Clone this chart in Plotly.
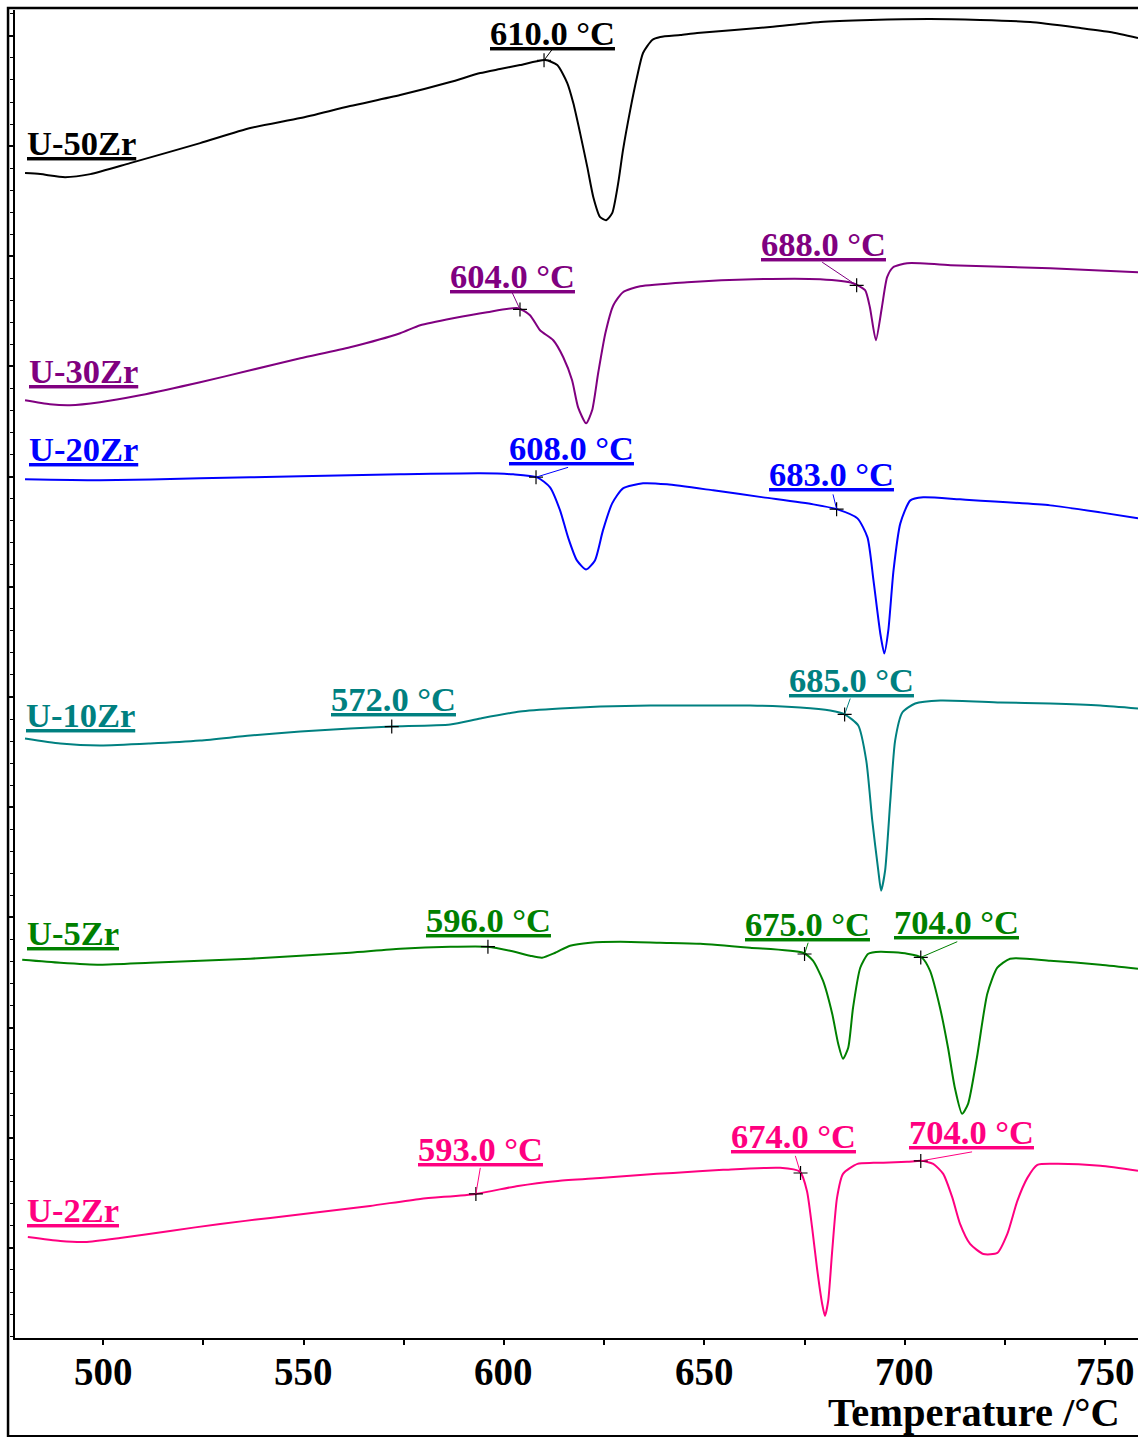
import numpy as np
import plotly.graph_objects as go

# ---------------- DSC heating curves (heat flow in a.u., curves stacked) ----------------
sample_names = ["U-50Zr", "U-30Zr", "U-20Zr", "U-10Zr", "U-5Zr", "U-2Zr"]

t_50zr = [480.5, 484.3, 490.5, 496.8, 506.7, 524.2, 536.7, 549.2, 561.6, 574.1, 586.6, 594.1,
          599.0, 604.0, 610.3, 613.3, 615.8, 617.3, 619.0, 620.8, 622.3, 624.0, 625.5, 627.0,
          628.5, 629.7, 631.5, 633.2, 634.7, 637.0, 639.0, 644.0, 648.2, 666.4, 678.9, 691.4,
          706.3, 718.8, 731.3, 743.8, 751.2, 758.2]
hf_50zr = [1164, 1163, 1160, 1163, 1174, 1194, 1209, 1219, 1231, 1242, 1255, 1264,
           1268, 1272, 1277, 1272, 1254, 1234, 1204, 1170, 1140, 1120, 1117, 1124,
           1154, 1187, 1227, 1260, 1284, 1297, 1300, 1302, 1304, 1310, 1315, 1317,
           1318, 1317, 1315, 1309, 1305, 1299]

t_30zr = [480.5, 486.7, 491.7, 499.2, 509.2, 524.2, 536.7, 549.2, 561.6, 574.1, 579.1, 587.3,
          595.8, 603.5, 606.5, 609.0, 612.3, 614.8, 617.0, 618.5, 620.5, 622.0, 623.5, 625.3,
          627.3, 629.7, 634.0, 645.7, 662.2, 678.9, 687.1, 690.1, 691.3, 692.8, 694.3, 695.6,
          697.1, 700.6, 703.8, 711.4, 736.3, 758.2]
hf_30zr = [937, 933, 932, 935, 942, 955, 967, 979, 990, 1004, 1012, 1019,
           1025, 1029, 1022, 1007, 997, 980, 957, 930, 914, 927, 964, 1004,
           1032, 1045, 1051, 1055, 1058, 1058, 1054, 1047, 1030, 997, 1030, 1060,
           1070, 1074, 1074, 1072, 1069, 1065]

t_20zr = [480.5, 499.2, 524.2, 549.2, 574.1, 594.1, 602.3, 608.3, 611.5, 614.0, 616.0, 618.2,
          620.5, 622.7, 624.7, 627.0, 629.7, 634.7, 640.7, 652.2, 664.7, 677.2, 683.2, 688.2,
          690.7, 692.2, 693.9, 694.9, 695.9, 697.2, 698.9, 701.4, 704.6, 713.8, 736.3, 748.8, 758.2]
hf_20zr = [858, 857, 859, 861, 863, 864, 863, 860, 850, 827, 800, 777,
           768, 777, 807, 834, 849, 854, 853, 847, 840, 833, 828, 819,
           800, 757, 704, 684, 707, 767, 814, 837, 840, 838, 832, 825, 819]

t_10zr = [480.5, 489.3, 499.2, 511.7, 524.2, 536.7, 549.2, 561.6, 572.0, 586.6, 594.1, 604.0,
          614.0, 624.0, 636.5, 649.0, 661.4, 673.9, 681.4, 685.1, 688.4, 690.4, 691.9, 693.4,
          694.1, 695.1, 696.4, 697.6, 699.4, 702.6, 708.9, 723.8, 736.3, 748.8, 758.2]
hf_10zr = [599, 594, 592, 594, 597, 602, 606, 609, 611, 613, 619, 626,
           629, 631, 632, 632, 632, 630, 627, 623, 612, 577, 517, 467,
           447, 467, 537, 597, 625, 634, 637, 635, 634, 632, 629]

t_5zr = [479.8, 489.3, 499.2, 511.7, 524.2, 536.7, 549.2, 561.6, 574.1, 586.6, 596.0, 601.5,
         606.5, 609.5, 612.8, 616.5, 621.5, 629.0, 639.0, 649.0, 661.4, 674.6, 677.1, 679.6,
         681.9, 683.4, 684.6, 685.9, 687.1, 688.9, 690.9, 693.9, 700.6, 704.3, 706.3, 708.8,
         710.8, 712.5, 714.3, 715.8, 718.0, 720.6, 723.1, 726.3, 736.3, 748.8, 758.2]
hf_5zr = [378, 375, 373, 375, 377, 379, 382, 385, 389, 391, 391, 387,
          382, 380, 385, 392, 395, 396, 395, 394, 390, 385, 377, 357,
          324, 294, 279, 290, 330, 370, 384, 386, 384, 380, 367, 330,
          290, 250, 224, 234, 280, 344, 370, 379, 377, 373, 369]

t_2zr = [481.2, 489.3, 495.5, 504.2, 516.7, 529.2, 541.7, 554.1, 566.6, 579.1, 593.0, 603.5,
         613.5, 624.0, 634.0, 642.2, 654.7, 668.9, 673.9, 675.6, 676.9, 678.1, 679.4, 680.1,
         680.9, 681.9, 683.1, 684.6, 688.2, 692.2, 700.6, 704.1, 707.1, 709.6, 711.9, 713.8,
         716.3, 719.6, 723.1, 725.6, 728.1, 730.6, 733.1, 738.1, 748.8, 758.2]
hf_2zr = [101, 97, 96, 100, 107, 114, 120, 126, 132, 139, 144, 152,
          157, 160, 163, 165, 168, 170, 166, 147, 110, 70, 34, 22,
          37, 87, 140, 164, 174, 175, 176, 177, 174, 164, 140, 114,
          94, 84, 85, 104, 137, 160, 173, 174, 172, 167]

# Onset temperatures (°C) of each thermal event
onset_50zr = [610.0]
onset_30zr = [604.0, 688.0]
onset_20zr = [608.0, 683.0]
onset_10zr = [572.0, 685.0]
onset_5zr = [596.0, 675.0, 704.0]
onset_2zr = [593.0, 674.0, 704.0]

# x-axis ticks
x_tick_vals = [500, 550, 600, 650, 700, 750]
x_tick_text = ["500", "550", "600", "650", "700", "750"]

# ---------------- styling / placement ----------------
FONT = "Liberation Serif, Times New Roman, serif"
colors = ["#000000", "#800080", "#0000FF", "#008080", "#008000", "#FF0080"]
temps = [t_50zr, t_30zr, t_20zr, t_10zr, t_5zr, t_2zr]
flows = [hf_50zr, hf_30zr, hf_20zr, hf_10zr, hf_5zr, hf_2zr]
onsets = [onset_50zr, onset_30zr, onset_20zr, onset_10zr, onset_5zr, onset_2zr]

# sample-name label anchors (left edge, vertical centre)
name_xy = [(480.6, 1194), (481.1, 966), (481.1, 888), (480.3, 623), (480.6, 405), (480.6, 128)]
# onset label anchors (left, centre) and the end of the leader line (None = no leader)
onset_xy = [
    [(596.0, 1304, (612.3, 1289))],
    [(586.0, 1061, (602.0, 1045)), (663.6, 1093, (679.4, 1075))],
    [(600.7, 889, (616.0, 870)), (665.6, 863, (682.1, 843))],
    [(556.3, 639, None), (670.6, 658, (686.4, 639))],
    [(580.0, 418, None), (659.6, 414, (675.9, 395)), (696.8, 416, (713.1, 396))],
    [(578.0, 189, (594.1, 170)), (656.1, 202, (672.7, 182)), (700.5, 206, (716.8, 186))],
]

fig = go.Figure()
annotations = []
shapes = []

for name, col, tt, hf, ons, nxy, oxy in zip(sample_names, colors, temps, flows, onsets, name_xy, onset_xy):
    fig.add_trace(go.Scatter(
        x=tt, y=hf, mode="lines", name=name,
        line=dict(color=col, width=2, shape="spline", smoothing=0.6),
        showlegend=False, hoverinfo="skip"))
    annotations.append(dict(
        x=nxy[0], y=nxy[1], xref="x", yref="y", xanchor="left", yanchor="middle",
        text=f"<b><u>{name}</u></b>", showarrow=False,
        font=dict(family=FONT, size=34.5, color=col)))
    mx, my = [], []
    for t_on, (lx, ly, lead) in zip(ons, oxy):
        y_on = float(np.interp(t_on, tt, hf))
        mx.append(t_on)
        my.append(y_on)
        annotations.append(dict(
            x=lx, y=ly, xref="x", yref="y", xanchor="left", yanchor="middle",
            text=f"<b><u>{t_on:.1f} °C</u></b>", showarrow=False,
            font=dict(family=FONT, size=34.5, color=col)))
        if lead is not None:
            shapes.append(dict(type="line", xref="x", yref="y",
                               x0=t_on, y0=y_on, x1=lead[0], y1=lead[1],
                               line=dict(color=col, width=1)))
    fig.add_trace(go.Scatter(
        x=mx, y=my, mode="markers", showlegend=False, hoverinfo="skip",
        marker=dict(symbol="cross-thin", size=10, color="black",
                    line=dict(color="black", width=1.2))))

# x tick labels
for val, txt in zip(x_tick_vals, x_tick_text):
    annotations.append(dict(
        x=val, y=-0.0249, xref="x", yref="paper", xanchor="center", yanchor="middle",
        text=f"<b>{txt}</b>", showarrow=False,
        font=dict(family=FONT, size=39, color="black")))

# x-axis title
annotations.append(dict(
    x=0.9857, y=-0.0558, xref="paper", yref="paper", xanchor="right", yanchor="middle",
    text="<b>Temperature /°C</b>", showarrow=False,
    font=dict(family=FONT, size=40.5, color="black")))

# outer frame
shapes.append(dict(type="rect", xref="paper", yref="paper",
                   x0=-0.0062, x1=1.02, y0=-0.0739, y1=1.0015,
                   line=dict(color="black", width=2.5)))

fig.update_layout(
    width=1138, height=1437,
    margin=dict(l=15, r=0, t=10, b=99),
    paper_bgcolor="white", plot_bgcolor="white",
    annotations=annotations, shapes=shapes,
    xaxis=dict(
        range=[478.0, 758.2], showgrid=False, zeroline=False,
        showline=True, linecolor="black", linewidth=2,
        tickmode="array", tickvals=x_tick_vals, showticklabels=False,
        ticks="outside", ticklen=5, tickwidth=2, tickcolor="black",
        minor=dict(ticks="outside", ticklen=5, tickwidth=2, tickcolor="black", dtick=25, tick0=500),
    ),
    yaxis=dict(
        range=[0, 1327], showgrid=False, zeroline=False,
        showline=True, linecolor="black", linewidth=2,
        showticklabels=False, tick0=90, dtick=110.1,
        ticks="outside", ticklen=4, tickwidth=1.5, tickcolor="black",
        minor=dict(ticks="outside", ticklen=3, tickwidth=1, tickcolor="black", dtick=22.02, tick0=90),
    ),
)

fig.write_html("out.html")
